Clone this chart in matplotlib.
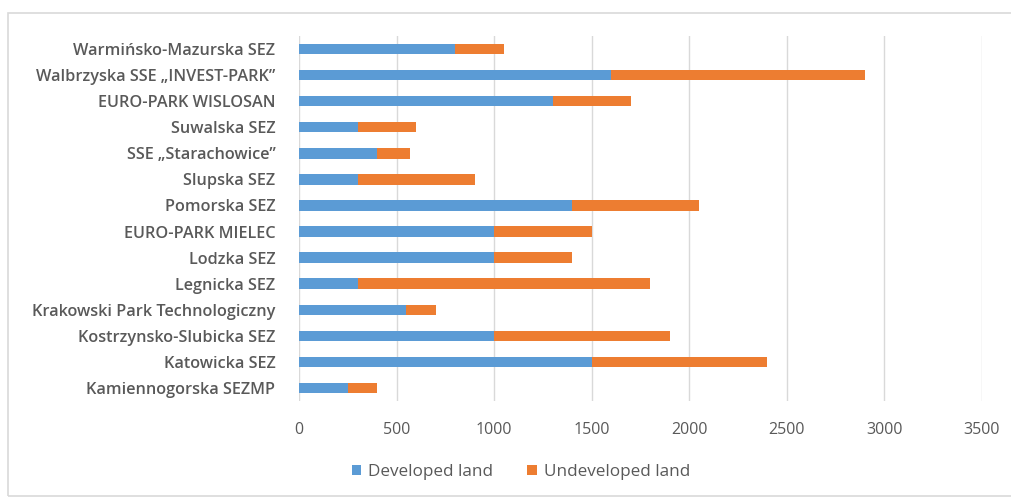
import matplotlib.pyplot as plt
import numpy as np
from matplotlib.patches import Rectangle

# Strefe (odozdo prema gore, kao na slici)
zones = ["Kamiennogorska SEZMP", "Katowicka SEZ", "Kostrzynsko-Slubicka SEZ",
         "Krakowski Park Technologiczny", "Legnicka SEZ", "Lodzka SEZ",
         "EURO-PARK MIELEC", "Pomorska SEZ", "Slupska SEZ",
         "SSE \u201eStarachowice\u201d", "Suwalska SEZ", "EURO-PARK WISLOSAN",
         "Walbrzyska SSE \u201eINVEST-PARK\u201d", "Warmińsko-Mazurska SEZ"]
developed = [250, 1500, 1000, 550, 300, 1000, 1000, 1400, 300, 400, 300, 1300, 1600, 800]
undeveloped = [150, 900, 900, 150, 1500, 400, 500, 650, 600, 170, 300, 400, 1300, 250]
xticks = [0, 500, 1000, 1500, 2000, 2500, 3000, 3500]

blue = "#5B9BD5"
orange = "#ED7D31"
txt = "#595959"

plt.rcParams['font.family'] = ['Open Sans', 'DejaVu Sans']

fig = plt.figure(figsize=(10.11, 4.98), dpi=100)
fig.patches.append(Rectangle((8 / 1011, 2 / 498), 1 - 8 / 1011 + 0.01, 1 - 15 / 498,
                             transform=fig.transFigure, fill=False,
                             edgecolor="#D9D9D9", linewidth=1.2))
ax = fig.add_axes([299 / 1011, 1 - 401 / 498, (982 - 299) / 1011, (401 - 36) / 498])

y = np.arange(len(zones))
ax.barh(y, developed, height=0.4, color=blue, label="Developed land", zorder=3)
ax.barh(y, undeveloped, left=developed, height=0.4, color=orange,
        label="Undeveloped land", zorder=3)

ax.set_xlim(0, 3500)
ax.set_ylim(-0.5, len(zones) - 0.5)
ax.set_xticks(xticks)
ax.set_xticklabels([str(t) for t in xticks], color=txt, fontsize=11.5)
ax.set_yticks(y)
ax.set_yticklabels(zones, color=txt, fontsize=11.7, fontweight='semibold')
ax.tick_params(axis='both', length=0)
ax.tick_params(axis='x', pad=15)
ax.tick_params(axis='y', pad=17)
ax.grid(axis='x', color="#D9D9D9", linewidth=1, zorder=0)
for s in ax.spines.values():
    s.set_visible(False)

ax.legend(loc='center', bbox_to_anchor=(521 / 1011, 1 - 472 / 498),
          bbox_transform=fig.transFigure, ncol=2, frameon=False,
          handlelength=0.53, handleheight=0.53, handletextpad=0.45,
          columnspacing=2.0, labelcolor=txt, fontsize=12.3)

plt.savefig("out.png", dpi=100)
